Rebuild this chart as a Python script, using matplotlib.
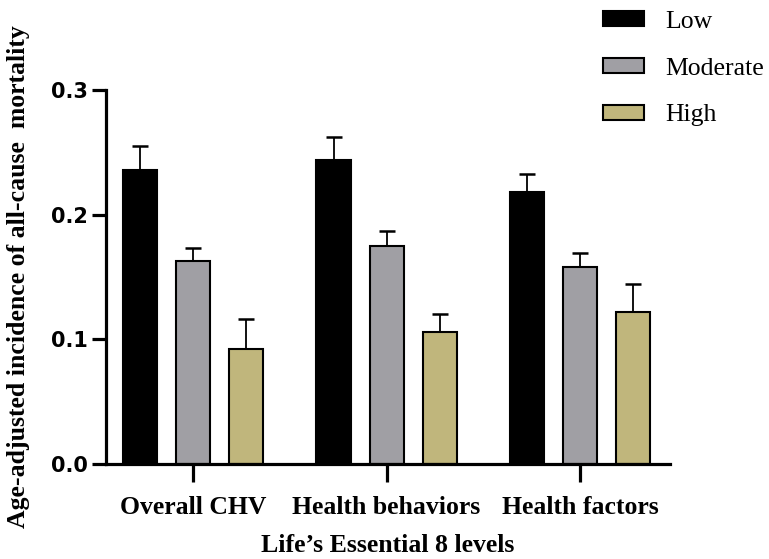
import matplotlib
matplotlib.use("Agg")
import matplotlib.pyplot as plt
import numpy as np

categories = ["Overall CHV", "Health behaviors", "Health factors"]
levels = ["Low", "Moderate", "High"]
low_vals = [0.236, 0.244, 0.218]
low_err = [0.019, 0.018, 0.015]
mod_vals = [0.163, 0.175, 0.158]
mod_err = [0.010, 0.012, 0.011]
high_vals = [0.092, 0.106, 0.122]
high_err = [0.024, 0.014, 0.022]
y_ticks = [0.0, 0.1, 0.2, 0.3]

colors = ["#000000", "#a09fa4", "#c0b67c"]
series = [(low_vals, low_err), (mod_vals, mod_err), (high_vals, high_err)]

serif = ["Liberation Serif", "DejaVu Serif"]
sans = ["DejaVu Sans"]
fs = 18.5

fig = plt.figure(figsize=(7.69, 5.59), dpi=100)
ax = fig.add_axes([0.1378, 0.170, 0.7335, 0.669])

x = np.arange(len(categories))
offset = 0.274
width = 0.176
for i, ((vals, errs), name, col) in enumerate(zip(series, levels, colors)):
    pos = x + (i - 1) * offset
    ax.bar(pos, vals, width=width, color=col, edgecolor="black",
           linewidth=1.5, label=name, zorder=2)
    ax.errorbar(pos, vals, yerr=[np.zeros(len(errs)), errs], fmt="none",
                ecolor="black", elinewidth=1.3, capsize=6, capthick=1.8,
                zorder=1)

ax.set_xlim(-0.45, 2.465)
ax.set_ylim(0, 0.3)
ax.set_yticks(y_ticks)
ax.set_yticklabels([f"{v:.1f}" for v in y_ticks], fontfamily=sans,
                   fontweight="bold", fontsize=15)
ax.set_xticks(x)
ax.set_xticklabels(categories, fontfamily=serif, fontweight="bold",
                   fontsize=fs)

for side in ["top", "right"]:
    ax.spines[side].set_visible(False)
for side in ["left", "bottom"]:
    ax.spines[side].set_linewidth(2.3)
ax.tick_params(axis="y", length=10, width=2.3, pad=3)
ax.tick_params(axis="x", length=13, width=2.3, pad=10)

ax.set_xlabel("Life\u2019s Essential 8 levels", fontfamily=serif,
              fontweight="bold", fontsize=fs)
ax.xaxis.set_label_coords(0.5, -0.188)
ax.set_ylabel("Age-adjusted incidence of all-cause  mortality",
              fontfamily=serif, fontweight="bold", fontsize=fs)
ax.yaxis.set_label_coords(-0.135, 0.5)

leg = fig.legend(*ax.get_legend_handles_labels(), loc="upper left",
                 bbox_to_anchor=(603 / 769, 0.981), frameon=False,
                 prop={"family": serif, "size": fs}, borderpad=0,
                 borderaxespad=0, handlelength=1.58, handleheight=0.5,
                 labelspacing=0.97, handletextpad=0.85)

fig.savefig("out.png", dpi=100)
